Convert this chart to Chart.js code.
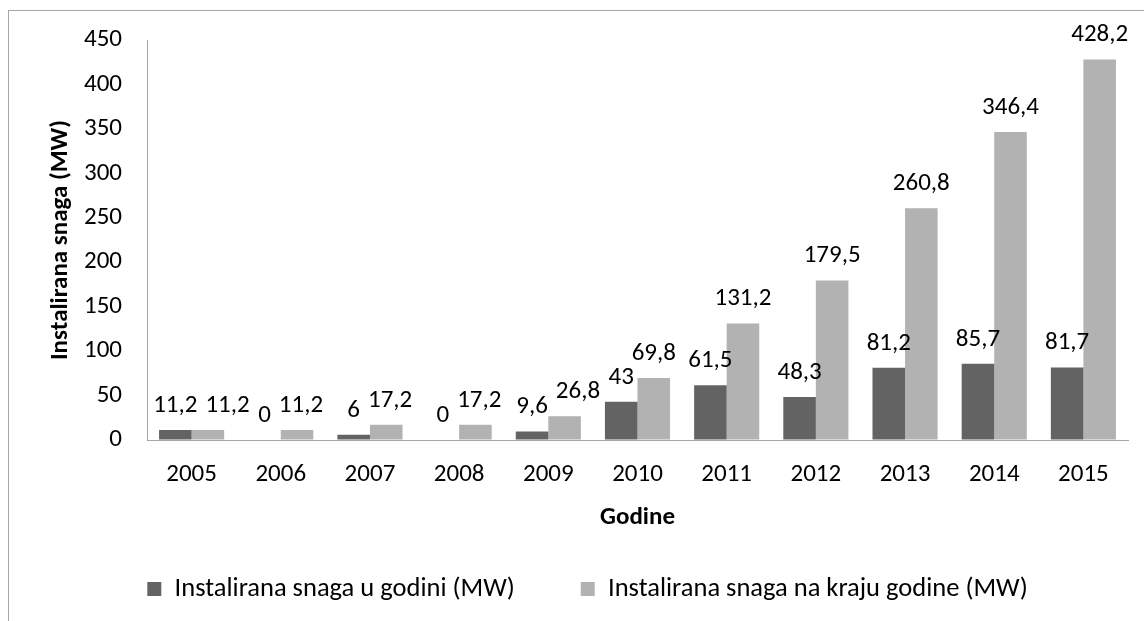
<!DOCTYPE html>
<html>
<head>
<meta charset="utf-8">
<script src="https://cdn.jsdelivr.net/npm/chart.js@4.4.1/dist/chart.umd.min.js"></script>
<style>
  html, body { margin: 0; padding: 0; background: #fff; }
  #wrap { position: relative; width: 1144px; height: 621px; overflow: hidden; }
  #frame { position: absolute; left: 8px; top: 10px; width: 1200px; height: 700px; border: 1px solid #a6a6a6; }
  #chart { position: absolute; left: 0; top: 0; }
</style>
</head>
<body>
<div id="wrap">
  <div id="frame"></div>
  <canvas id="chart" width="1144" height="621"></canvas>
</div>
<script>
const years = ['2005', '2006', '2007', '2008', '2009', '2010', '2011', '2012', '2013', '2014', '2015'];
const installedInYear = [11.2, 0, 6, 0, 9.6, 43, 61.5, 48.3, 81.2, 85.7, 81.7];
const installedAtYearEnd = [11.2, 11.2, 17.2, 17.2, 26.8, 69.8, 131.2, 179.5, 260.8, 346.4, 428.2];
const yTicks = [0, 50, 100, 150, 200, 250, 300, 350, 400, 450];

const FONT = 'Calibri, Carlito, Lato, sans-serif';
const SIZE = 25;
const fmt = v => String(v).replace('.', ',');

// value labels above bars, the second series is pushed right when it would collide
const valueLabels = {
  id: 'valueLabels',
  afterDatasetsDraw(chart) {
    const ctx = chart.ctx;
    ctx.save();
    ctx.font = `${SIZE}px ${FONT}`;
    ctx.fillStyle = '#000';
    ctx.textAlign = 'center';
    ctx.textBaseline = 'alphabetic';
    const m0 = chart.getDatasetMeta(0), m1 = chart.getDatasetMeta(1);
    const d0 = chart.data.datasets[0].data, d1 = chart.data.datasets[1].data;
    const textH = 17, gap = 8, lift = 18;
    years.forEach((_, i) => {
      const b0 = m0.data[i], b1 = m1.data[i];
      const t0 = fmt(d0[i]), t1 = fmt(d1[i]);
      const w0 = ctx.measureText(t0).width, w1 = ctx.measureText(t1).width;
      const y0 = b0.y - lift, y1 = b1.y - lift;
      let x1 = b1.x;
      const right0 = b0.x + w0 / 2;
      if (Math.abs(y0 - y1) < textH && x1 - w1 / 2 < right0 + gap) {
        x1 = right0 + gap + w1 / 2;
      }
      ctx.fillText(t0, b0.x, y0);
      ctx.fillText(t1, x1, y1);
    });
    ctx.restore();
  }
};

new Chart(document.getElementById('chart'), {
  type: 'bar',
  data: {
    labels: years,
    datasets: [
      {
        label: 'Instalirana snaga u godini (MW)',
        data: installedInYear,
        backgroundColor: '#636363',
        categoryPercentage: 0.73,
        barPercentage: 1.0,
      },
      {
        label: 'Instalirana snaga na kraju godine (MW)',
        data: installedAtYearEnd,
        backgroundColor: '#b2b2b2',
        categoryPercentage: 0.73,
        barPercentage: 1.0,
      },
    ],
  },
  options: {
    responsive: false,
    animation: false,
    devicePixelRatio: 1,
    layout: { padding: { left: 47, right: 16, top: 40, bottom: 8.75 } },
    plugins: {
      tooltip: { enabled: false },
      legend: {
        position: 'bottom',
        labels: {
          color: '#000',
          font: { family: FONT, size: 26.5 },
          boxWidth: 14,
          boxHeight: 14,
          padding: 66,
        },
      },
    },
    scales: {
      x: {
        grid: { drawOnChartArea: false, drawTicks: false },
        border: { color: '#a6a6a6', width: 1 },
        ticks: { color: '#000', font: { family: FONT, size: SIZE }, padding: 20 },
        title: {
          display: true,
          text: 'Godine',
          color: '#000',
          font: { family: FONT, size: SIZE, weight: 'bold' },
          padding: { top: 0, bottom: -23 },
        },
        afterFit(scale) { scale.height = 69.75; },
      },
      y: {
        min: 0,
        max: 450,
        afterBuildTicks(scale) { scale.ticks = yTicks.map(v => ({ value: v })); },
        grid: { drawOnChartArea: false, drawTicks: false },
        border: { color: '#a6a6a6', width: 1 },
        ticks: { color: '#000', font: { family: FONT, size: SIZE }, padding: 25 },
        title: {
          display: true,
          text: 'Instalirana snaga (MW)',
          color: '#000',
          font: { family: FONT, size: SIZE, weight: 'bold' },
          padding: { top: -1, bottom: 0 },
        },
        afterFit(scale) { scale.width = 100; },
      },
    },
  },
  plugins: [valueLabels],
});
</script>
</body>
</html>
